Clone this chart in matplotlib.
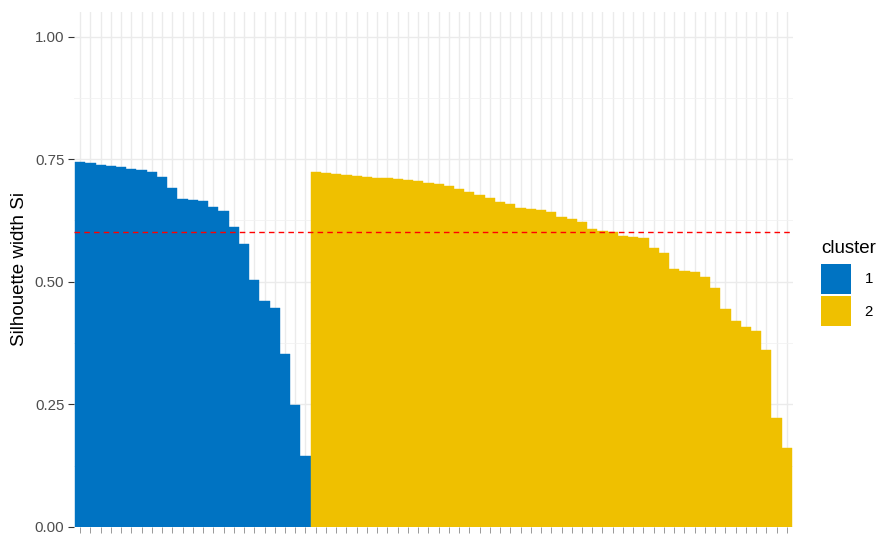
import numpy as np
import matplotlib
matplotlib.use("Agg")
import matplotlib.pyplot as plt
from matplotlib.patches import Patch

plt.rcParams['font.family'] = ['Liberation Sans', 'DejaVu Sans']

# silhouette widths, sorted within each cluster
cluster1_sil = [0.744, 0.742, 0.739, 0.737, 0.735, 0.730, 0.727, 0.723, 0.714,
                0.692, 0.669, 0.667, 0.664, 0.652, 0.644, 0.612, 0.576, 0.504,
                0.460, 0.446, 0.352, 0.249, 0.145]
cluster2_sil = [0.724, 0.722, 0.720, 0.718, 0.715, 0.713, 0.712, 0.711, 0.710,
                0.708, 0.706, 0.701, 0.699, 0.695, 0.689, 0.684, 0.676, 0.671,
                0.662, 0.658, 0.650, 0.648, 0.647, 0.643, 0.632, 0.627, 0.621,
                0.608, 0.604, 0.601, 0.593, 0.591, 0.589, 0.569, 0.559, 0.526,
                0.522, 0.519, 0.510, 0.487, 0.444, 0.419, 0.407, 0.400, 0.360,
                0.222, 0.161]
cluster_labels = ["1", "2"]
cluster_colors = ["#0073C2", "#EFC000"]

all_sil = cluster1_sil + cluster2_sil
mean_sil = np.mean(all_sil)

fig = plt.figure(figsize=(8.81, 5.36), dpi=100)
ax = fig.add_axes([74 / 881, 9 / 536, (793 - 74) / 881, (527 - 12) / 536])

x1 = np.arange(1, len(cluster1_sil) + 1)
x2 = np.arange(len(cluster1_sil) + 1, len(all_sil) + 1)
ax.bar(x1, cluster1_sil, width=1.0, color=cluster_colors[0],
       edgecolor=cluster_colors[0], linewidth=0.3, zorder=2)
ax.bar(x2, cluster2_sil, width=1.0, color=cluster_colors[1],
       edgecolor=cluster_colors[1], linewidth=0.3, zorder=2)
ax.axhline(mean_sil, color="red", linestyle=(0, (4, 3)), linewidth=1.0, zorder=3)

ax.set_xlim(0.4, len(all_sil) + 0.6)
ax.set_ylim(0, 1.05)

ax.set_xticks(np.arange(1, len(all_sil) + 1))
ax.set_xticklabels([])
ax.set_yticks([0, 0.25, 0.5, 0.75, 1.0])
ax.set_yticklabels(["0.00", "0.25", "0.50", "0.75", "1.00"])
ax.set_yticks([0.125, 0.375, 0.625, 0.875], minor=True)

ax.grid(which="major", color="#EBEBEB", linewidth=1.0, zorder=0)
ax.grid(which="minor", axis="y", color="#F2F2F2", linewidth=0.6, zorder=0)
ax.set_axisbelow(True)
for s in ax.spines.values():
    s.set_visible(False)

ax.tick_params(axis="y", which="major", length=4, color="#333333", width=0.8,
               labelsize=10.8, labelcolor="#4D4D4D", pad=3)
ax.tick_params(axis="y", which="minor", length=0)
ax.tick_params(axis="x", length=4, color="#888888", width=0.6)

ax.set_ylabel("Silhouette width Si", fontsize=13.5, color="black", labelpad=5)

handles = [Patch(facecolor=c, edgecolor="none") for c in cluster_colors]
fig.legend(handles, cluster_labels, title="cluster", loc="upper left",
           bbox_to_anchor=(821 / 881, 1 - 240 / 536), frameon=False,
           fontsize=10.8, title_fontsize=13.5, handlelength=2.0,
           handleheight=2.7, labelspacing=0.15, handletextpad=0.9,
           borderpad=0, borderaxespad=0, alignment="left")
# a little more room between the legend title and the keys
fig.legends[0]._legend_box.sep = 5

fig.savefig("out.png", dpi=100)
